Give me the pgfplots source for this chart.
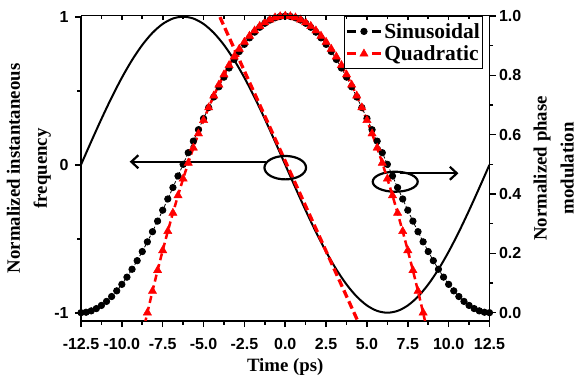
\documentclass[border=0pt]{standalone}
\usepackage{fontspec}
\setmainfont{Liberation Serif}
\newfontfamily\tickfont{Liberation Sans}
\usepackage{pgfplots}
\pgfplotsset{compat=1.18}
\usetikzlibrary{arrows.meta}

\begin{document}
\begin{tikzpicture}
\pgfplotsset{
  every axis/.append style={
    scale only axis, width=408.5bp, height=305.3bp,
    xmin=-12.5, xmax=12.5,
    axis line style={line width=1.6bp},
    every tick/.style={black, line width=1.6bp},
    major tick length=6bp, minor tick length=3.5bp,
    ticklabel style={font=\tickfont\bfseries\fontsize{16bp}{18bp}\selectfont},
    label style={font=\bfseries\fontsize{18.8bp}{27bp}\selectfont, align=center},
  },
}
% left axis: instantaneous frequency
\begin{axis}[
  ymin=-1.056, ymax=1.0068,
  axis y line*=left, axis x line*=bottom,
  tick align=outside,
  xtick={-12.5,-10,-7.5,-5,-2.5,0,2.5,5,7.5,10,12.5},
  xticklabels={-12.5,-10.0,-7.5,-5.0,-2.5,0.0,2.5,5.0,7.5,10.0,12.5},
  minor x tick num=1,
  ytick={-1,0,1}, yticklabels={-1,0,1}, minor y tick num=1,
  xticklabel style={yshift=-8bp},
  yticklabel style={xshift=-3bp},
  xlabel={Time (ps)},
  ylabel={Normalized instantaneous\\frequency},
  xlabel style={at={(axis description cs:0.5,-0.1497)}, anchor=center},
  ylabel style={at={(axis description cs:-0.1273,0.5)}, anchor=center},
]
\coordinate (sw) at (rel axis cs:0,0);
\coordinate (ne) at (rel axis cs:1,1);
\addplot[black, line width=2bp, smooth] coordinates {
(-12.5,0) (-11.875,0.15643) (-11.25,0.30902) (-10.625,0.45399) (-10,0.58779) (-9.375,0.70711) (-8.75,0.80902) (-8.125,0.89101) (-7.5,0.95106) (-6.875,0.98769) (-6.25,1) (-5.625,0.98769) (-5,0.95106) (-4.375,0.89101) (-3.75,0.80902) (-3.125,0.70711) (-2.5,0.58779) (-1.875,0.45399) (-1.25,0.30902) (-0.625,0.15643) (0,0) (0.625,-0.15643) (1.25,-0.30902) (1.875,-0.45399) (2.5,-0.58779) (3.125,-0.70711) (3.75,-0.80902) (4.375,-0.89101) (5,-0.95106) (5.625,-0.98769) (6.25,-1) (6.875,-0.98769) (7.5,-0.95106) (8.125,-0.89101) (8.75,-0.80902) (9.375,-0.70711) (10,-0.58779) (10.625,-0.45399) (11.25,-0.30902) (11.875,-0.15643) (12.5,0)
};
\addplot[red, line width=3.3bp, dash pattern=on 8bp off 4bp] coordinates {(-4.3,1.071) (4.5,-1.071)};
% annotations
\draw[line width=2.2bp] (axis cs:0,-0.02) ellipse [x radius=20.8bp, y radius=11.7bp];
\draw[line width=2.2bp, -{Straight Barb[length=7bp,width=13bp]}] (axis cs:-1.15,0.02) -- (axis cs:-9.52,0.02);
\draw[line width=2.2bp] (axis cs:6.73,-0.115) ellipse [x radius=22.5bp, y radius=10bp];
\draw[line width=2.2bp, -{Straight Barb[length=7bp,width=13bp]}] (axis cs:7.0,-0.058) -- (axis cs:10.6,-0.058);
\end{axis}

% right axis: phase modulation
\begin{axis}[
  ymin=-0.028, ymax=1.001,
  axis y line*=right, axis x line=none,
  tick align=outside,
  ytick={0,0.2,0.4,0.6,0.8,1.0},
  yticklabels={\raisebox{-5bp}{0.0},0.2,0.4,0.6,0.8,1.0},
  minor y tick num=1,
  ylabel={Normalized phase\\modulation},
  ylabel style={at={(axis description cs:1.157,0.5)}, anchor=center, rotate=0},
  legend style={draw=black, line width=1bp, fill=white,
    at={(axis description cs:0.985,1.0)}, anchor=north east,
    font=\bfseries\fontsize{21.5bp}{24bp}\selectfont,
    inner xsep=1bp, inner ysep=5bp, row sep=2bp},
  legend cell align=left,
  legend image code/.code={
    \draw[#1,solid,line width=2.6bp] (0bp,0bp) -- (9bp,0bp);
    \draw[#1,solid,line width=2.6bp] (25bp,0bp) -- (34bp,0bp);
    \draw[#1,solid] plot coordinates {(17bp,0bp)};
  },
]
\addplot[black, line width=0.8bp, dash pattern=on 3bp off 2bp, mark=*, mark size=3.2bp, mark options={solid}] coordinates {
(-12.5,0) (-12.1875,0.00154) (-11.875,0.00616) (-11.5625,0.01382) (-11.25,0.02447) (-10.9375,0.03806) (-10.625,0.05450) (-10.3125,0.07368) (-10,0.09549) (-9.6875,0.11980) (-9.375,0.14645) (-9.0625,0.17528) (-8.75,0.20611) (-8.4375,0.23875) (-8.125,0.27300) (-7.8125,0.30866) (-7.5,0.34549) (-7.1875,0.38328) (-6.875,0.42178) (-6.5625,0.46077) (-6.25,0.5) (-5.9375,0.53923) (-5.625,0.57822) (-5.3125,0.61672) (-5,0.65451) (-4.6875,0.69134) (-4.375,0.72700) (-4.0625,0.76125) (-3.75,0.79389) (-3.4375,0.82472) (-3.125,0.85355) (-2.8125,0.88020) (-2.5,0.90451) (-2.1875,0.92632) (-1.875,0.94550) (-1.5625,0.96194) (-1.25,0.97553) (-0.9375,0.98618) (-0.625,0.99384) (-0.3125,0.99846) (0,1)
(0.3125,0.99846) (0.625,0.99384) (0.9375,0.98618) (1.25,0.97553) (1.5625,0.96194) (1.875,0.94550) (2.1875,0.92632) (2.5,0.90451) (2.8125,0.88020) (3.125,0.85355) (3.4375,0.82472) (3.75,0.79389) (4.0625,0.76125) (4.375,0.72700) (4.6875,0.69134) (5,0.65451) (5.3125,0.61672) (5.625,0.57822) (5.9375,0.53923) (6.25,0.5) (6.5625,0.46077) (6.875,0.42178) (7.1875,0.38328) (7.5,0.34549) (7.8125,0.30866) (8.125,0.27300) (8.4375,0.23875) (8.75,0.20611) (9.0625,0.17528) (9.375,0.14645) (9.6875,0.11980) (10,0.09549) (10.3125,0.07368) (10.625,0.05450) (10.9375,0.03806) (11.25,0.02447) (11.5625,0.01382) (11.875,0.00616) (12.1875,0.00154) (12.5,0)
};
\addlegendentry{Sinusoidal}
\addplot[red, line width=2.5bp, dash pattern=on 7bp off 4bp, mark=triangle*, mark size=4.8bp, mark options={solid, line width=0.4bp}] coordinates {
(-8.75,-0.07545) (-8.4375,0) (-8.125,0.07270) (-7.8125,0.14266) (-7.5,0.20988) (-7.1875,0.27435) (-6.875,0.33608) (-6.5625,0.39506) (-6.25,0.45130) (-5.9375,0.50480) (-5.625,0.55556) (-5.3125,0.60357) (-5,0.64883) (-4.6875,0.69136) (-4.375,0.73114) (-4.0625,0.76818) (-3.75,0.80247) (-3.4375,0.83402) (-3.125,0.86283) (-2.8125,0.88889) (-2.5,0.91221) (-2.1875,0.93278) (-1.875,0.95062) (-1.5625,0.96571) (-1.25,0.97805) (-0.9375,0.98765) (-0.625,0.99451) (-0.3125,0.99863) (0,1)
(0.3125,0.99863) (0.625,0.99451) (0.9375,0.98765) (1.25,0.97805) (1.5625,0.96571) (1.875,0.95062) (2.1875,0.93278) (2.5,0.91221) (2.8125,0.88889) (3.125,0.86283) (3.4375,0.83402) (3.75,0.80247) (4.0625,0.76818) (4.375,0.73114) (4.6875,0.69136) (5,0.64883) (5.3125,0.60357) (5.625,0.55556) (5.9375,0.50480) (6.25,0.45130) (6.5625,0.39506) (6.875,0.33608) (7.1875,0.27435) (7.5,0.20988) (7.8125,0.14266) (8.125,0.07270) (8.4375,0) (8.75,-0.07545)
};
\addlegendentry{Quadratic}
\end{axis}

% top axis: inward ticks only
\begin{axis}[
  ymin=0, ymax=1,
  axis x line*=top, axis y line=none,
  tick align=inside,
  xtick={-12.5,-10,-7.5,-5,-2.5,0,2.5,5,7.5,10,12.5},
  xticklabels={},
  minor x tick num=1,
  major tick length=4bp, minor tick length=3bp,
]
\end{axis}
\pgfresetboundingbox
\path[use as bounding box] ([shift={(-81bp,-57bp)}]sw) rectangle ([shift={(87.5bp,15.7bp)}]ne);
\end{tikzpicture}
\end{document}
